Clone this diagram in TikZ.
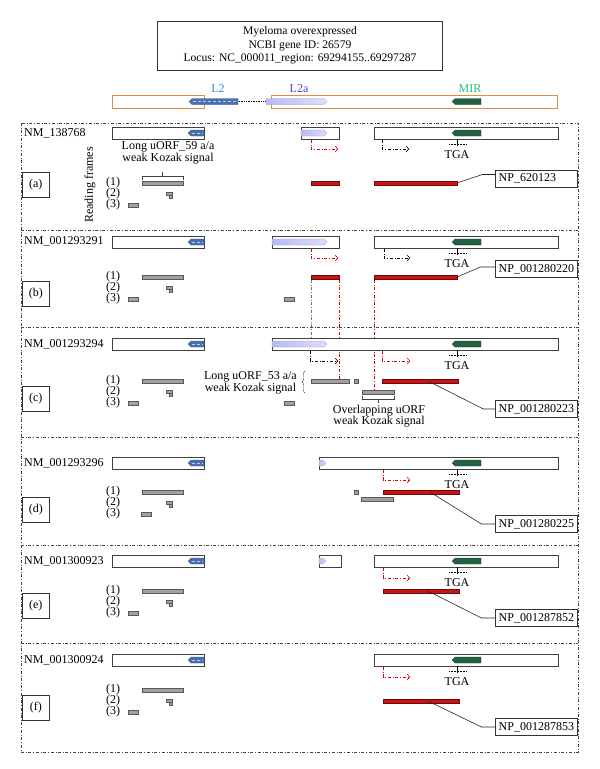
\documentclass[tikz,border=0pt]{standalone}
\usepackage{fontspec}
\setmainfont{Liberation Serif}
\usetikzlibrary{calc,arrows.meta,decorations.pathreplacing}

\definecolor{orangeline}{RGB}{228,140,70}
\definecolor{ltwoblue}{RGB}{72,112,178}
\definecolor{ltwotext}{RGB}{60,140,210}
\definecolor{ltwoatext}{RGB}{70,70,215}
\definecolor{lavender}{RGB}{128,128,245}
\definecolor{lavlight}{RGB}{222,222,252}
\definecolor{mirgreen}{RGB}{36,96,66}
\definecolor{mirtext}{RGB}{40,185,120}
\definecolor{orfred}{RGB}{200,20,20}
\definecolor{orfredline}{RGB}{110,10,10}
\definecolor{orfgray}{RGB}{160,160,160}
\definecolor{frameline}{RGB}{70,70,70}

\tikzset{
  exon/.style={draw=black!75, fill=white, line width=0.7pt},
  panel/.style={draw=frameline, dash dot, line width=0.5pt},
  gorf/.style={fill=orfgray, draw=black!65, line width=0.4pt},
  rorf/.style={fill=orfred, draw=orfredline, line width=0.4pt},
  rarrow/.style={draw=red!85!black, dash dot, line width=0.6pt, -{Straight Barb[length=2.5pt,width=6pt]}},
  karrow/.style={draw=black, dash dot, line width=0.6pt, -{Straight Barb[length=2.5pt,width=6pt]}},
  rline/.style={draw=red!85!black, dash dot, line width=0.5pt},
  gline/.style={draw=black!55, dash dot, line width=0.5pt},
  npbox/.style={draw=black!80, fill=white, line width=0.6pt, anchor=east, minimum height=17pt, text width=76pt, inner xsep=3pt, align=left},
  tagbox/.style={draw=black!80, line width=0.6pt, anchor=west, minimum width=27pt, minimum height=25pt},
  note/.style={align=center, font=\fontsize{12}{11.5}\selectfont},
  ltwo/.style={fill=ltwoblue, draw=ltwoblue!70!black, line width=0.3pt},
  ltwoa/.style={left color=lavlight!60!lavender, middle color=lavender, right color=lavlight, draw=black!40, line width=0.3pt},
  mir/.style={fill=mirgreen, draw=mirgreen!70!black, line width=0.3pt},
  conn/.style={draw=black!85, line width=0.6pt}
}

% x1, x2, y, style
\newcommand{\elleft}[4]{%
  \path[#4] (#1,#3) -- (#1+3,#3-3) -- (#2,#3-3) -- (#2,#3+3) -- (#1+3,#3+3) -- cycle;}
\newcommand{\elright}[4]{%
  \path[#4] (#1,#3-3) -- (#2-3,#3-3) -- (#2,#3) -- (#2-3,#3+3) -- (#1,#3+3) -- cycle;}
\newcommand{\ltwoel}[3]{%
  \elleft{#1}{#2}{#3}{ltwo}
  \draw[ltwoblue!35!white, densely dashed, line width=0.5pt] (#1+4,#3) -- (#2-1,#3);}
% name, y of frame (1)
\newcommand{\frames}[2]{%
  \foreach \n/\d in {1/0,2/11,3/22} \node (#1-rf\n) at (113,#2+\d) {(\n)};
  \draw[gorf] (142,#2-2) rectangle (183,#2+2);
  \draw[gorf] (166,#2+9) rectangle (172,#2+12);
  \draw[gorf] (169,#2+12) rectangle (172,#2+15);}
% y top of exon row
\newcommand{\firstexon}[1]{%
  \draw[exon] (112,#1) rectangle (204,#1+12);
  \ltwoel{188}{204}{#1+6}}
% x left, y top
\newcommand{\lastexon}[2]{%
  \draw[exon] (#1,#2) rectangle (558,#2+12);
  \elleft{452}{481}{#2+6}{mir}}
% name, y of box bottom
\newcommand{\tga}[2]{%
  \draw[densely dotted, line width=0.5pt] (449,#2+5) -- (466,#2+5);
  \draw[line width=0.5pt] (457,#2) -- (457,#2+7);
  \node (#1) at (457,#2+16) {TGA};}

\begin{document}
\begin{tikzpicture}[x=1pt,y=-1pt,
  every node/.style={font=\fontsize{12}{14}\selectfont, inner sep=1pt}]
\useasboundingbox (0,0) rectangle (600,769);

\node[draw=black!80, line width=0.6pt, minimum width=285pt, minimum height=49pt, align=center,
  font=\fontsize{11.6}{13.5}\selectfont] (title) at (300,45.5)
  {Myeloma overexpressed\\NCBI gene ID: 26579\\Locus: NC\_000011\_region: 69294155..69297287};

% genome
\draw[orangeline, line width=0.9pt] (112,95) rectangle (204,108);
\draw[orangeline, line width=0.9pt] (271,95) rectangle (557,108);
\ltwoel{189}{238}{101.5}
\draw[densely dotted, line width=0.7pt] (239,101.5) -- (265,101.5);
\elright{266}{327}{101.5}{ltwoa}
\elleft{452}{481}{101.5}{mir}
\node[text=ltwotext] (gl2) at (218,89) {L2};
\node[text=ltwoatext] (gl2a) at (299,89) {L2a};
\node[text=mirtext] (gmir) at (470,89) {MIR};

% frame
\draw[panel] (21,123) rectangle (578,752);
\foreach \y in {230,327,437,545,643} \draw[panel] (21,\y) -- (578,\y);

% (a)
\node[anchor=west] (nma) at (23,133) {NM\_138768};
\firstexon{127}
\draw[exon] (301,127) rectangle (339,139);
\elright{301}{327}{133}{ltwoa}
\lastexon{374}{127}
\draw[rarrow] (311,140) -- (311,149) -- (338,149);
\draw[karrow] (382,140) -- (382,149) -- (409,149);
\tga{tgaa}{139}
\node[note] (uorfa) at (168,153) {Long uORF\_59 a/a\\weak Kozak signal};
\draw[black!75] (142,179.5) -- (142,176) -- (183,176) -- (183,179.5) (162.5,176) -- (162.5,172);
\node[rotate=90] (rfa) at (90,185) {Reading frames};
\frames{a}{183}
\draw[gorf] (128,203) rectangle (138,207);
\draw[rorf] (311,181) rectangle (339,185);
\draw[rorf] (374,181) rectangle (457,185);
\coordinate (ra) at (457,183);
\node[npbox] (npa) at (578,178.5) {NP\_620123};
\draw[conn] (ra) -- ($(npa.west)+(-13,-4)$) -- ($(npa.west)+(0,-4)$);
\node[tagbox] (taga) at (22,185) {(a)};

% (b)
\node[anchor=west] (nmb) at (23,241) {NM\_001293291};
\firstexon{236}
\draw[exon] (272,236) rectangle (339,248);
\elright{272}{327}{242}{ltwoa}
\lastexon{374}{236}
\draw[rarrow] (311,249) -- (311,258) -- (338,258);
\draw[karrow] (384,249) -- (384,258) -- (410,258);
\tga{tgab}{248}
\frames{b}{277}
\draw[gorf] (128,297) rectangle (138,301);
\draw[gorf] (284,297) rectangle (294,301);
\draw[rorf] (311,275) rectangle (339,279);
\draw[rorf] (374,275) rectangle (457,279);
\coordinate (rb) at (457,277);
\node[npbox] (npb) at (578,269) {NP\_001280220};
\draw[conn] (rb) -- ($(npb.west)+(-15,-2)$) -- ($(npb.west)+(0,-2)$);
\node[tagbox] (tagb) at (22,294) {(b)};
\draw[gline] (311,280) -- (311,351);
\draw[rline] (339,280) -- (339,379);
\draw[rline] (374,280) -- (374,390);

% (c)
\node[anchor=west] (nmc) at (23,344) {NM\_001293294};
\firstexon{338}
\draw[exon] (272,338) rectangle (558,350);
\elright{272}{327}{344}{ltwoa}
\elleft{452}{481}{344}{mir}
\draw[karrow] (310,351) -- (310,361) -- (338,361);
\draw[rarrow] (382,351) -- (382,361) -- (410,361);
\tga{tgac}{350}
\frames{c}{381}
\draw[gorf] (128,401) rectangle (138,405);
\draw[gorf] (284,401) rectangle (294,405);
\draw[gorf] (311,379) rectangle (349,383);
\draw[gorf] (354,379) rectangle (358,383);
\draw[gorf] (362,390) rectangle (394,394);
\node[note, anchor=east] (uorfc) at (298,383) {Long uORF\_53 a/a\\weak Kozak signal};
\draw[black!75, decorate, decoration={brace, amplitude=3pt}] (305,393) -- (305,371);
\draw[black!75] (362,395.5) -- (362,399) -- (394,399) -- (394,395.5) (378,399) -- (378,403);
\node[note] (ovlc) at (379,416) {Overlapping uORF\\weak Kozak signal};
\draw[rorf] (382,379) rectangle (458,383);
\coordinate (rc) at (428,381);
\node[npbox] (npc) at (578,409) {NP\_001280223};
\draw[conn] (rc) -- ($(npc.west)+(-12,0)$) -- (npc.west);
\node[tagbox] (tagc) at (22,399) {(c)};

% (d)
\node[anchor=west] (nmd) at (23,463) {NM\_001293296};
\firstexon{457}
\lastexon{319}{457}
\elright{319}{326}{463}{ltwoa}
\draw[rarrow] (383,470) -- (383,480) -- (410,480);
\tga{tgad}{469}
\frames{d}{492}
\draw[gorf] (141,512) rectangle (151,516);
\draw[gorf] (354,490) rectangle (358,494);
\draw[gorf] (361,497) rectangle (393,501);
\draw[rorf] (383,490) rectangle (459,494);
\coordinate (rd) at (430,492);
\node[npbox] (npd) at (578,524) {NP\_001280225};
\draw[conn] (rd) -- ($(npd.west)+(-14,0)$) -- (npd.west);
\node[tagbox] (tagd) at (22,510) {(d)};

% (e)
\node[anchor=west] (nme) at (23,561) {NM\_001300923};
\firstexon{555}
\draw[exon] (319,555) rectangle (341,567);
\elright{319}{326}{561}{ltwoa}
\lastexon{374}{555}
\draw[rarrow] (383,568) -- (383,578) -- (410,578);
\tga{tgae}{567}
\frames{e}{591}
\draw[gorf] (128,611) rectangle (138,615);
\draw[rorf] (383,589) rectangle (459,593);
\coordinate (re) at (428,591);
\node[npbox] (npe) at (578,618) {NP\_001287852};
\draw[conn] (re) -- ($(npe.west)+(-14,0)$) -- (npe.west);
\node[tagbox] (tage) at (22,606) {(e)};

% (f)
\node[anchor=west] (nmf) at (23,660) {NM\_001300924};
\firstexon{654}
\lastexon{374}{654}
\draw[rarrow] (383,667) -- (383,677) -- (410,677);
\tga{tgaf}{666}
\frames{f}{690}
\draw[gorf] (128,710) rectangle (138,714);
\draw[rorf] (383,699) rectangle (459,703);
\coordinate (rf) at (428,701);
\node[npbox] (npf) at (578,727) {NP\_001287853};
\draw[conn] (rf) -- ($(npf.west)+(-14,0)$) -- (npf.west);
\node[tagbox] (tagf) at (22,708) {(f)};
\end{tikzpicture}
\end{document}
